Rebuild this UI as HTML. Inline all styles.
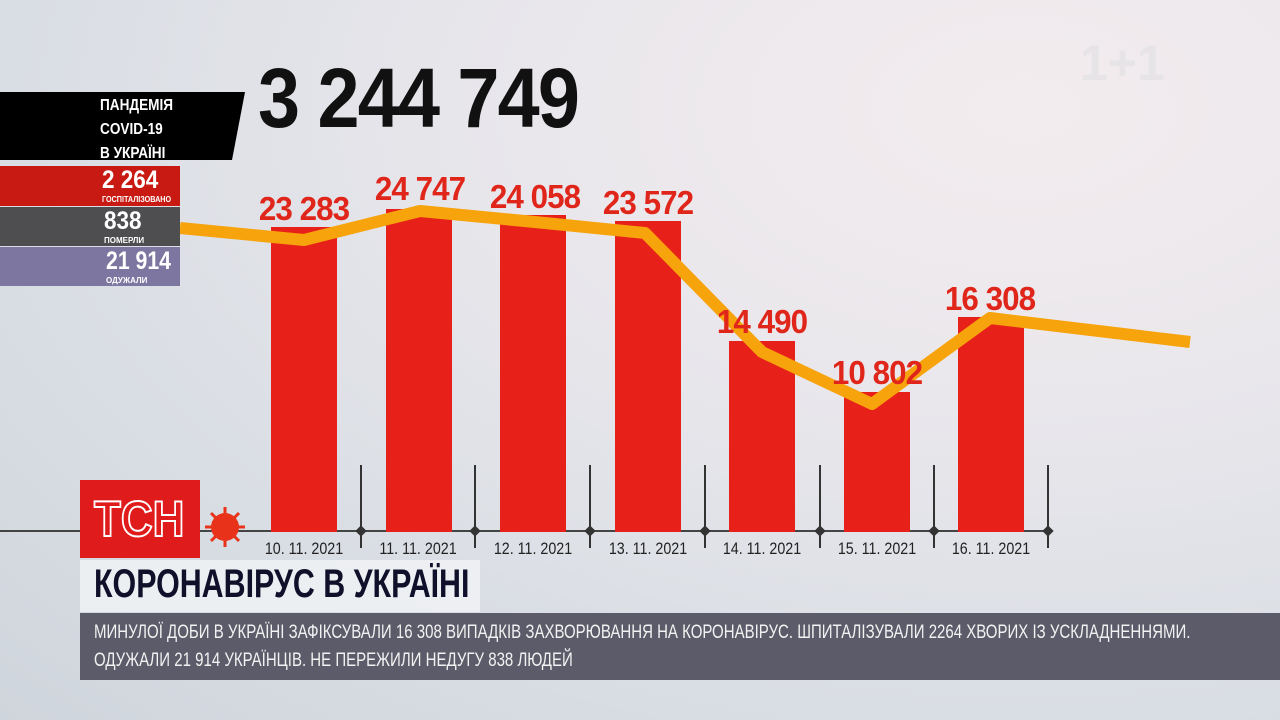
<!DOCTYPE html>
<html><head><meta charset="utf-8"><style>
body{margin:0;width:1280px;height:720px;overflow:hidden;position:relative;font-family:"Liberation Sans","DejaVu Sans",sans-serif;
background:radial-gradient(ellipse at 80% 15%,#f3ecee 0%,#e9e7ec 35%,#d9dee4 70%,#cfd5dc 100%);}
.abs{position:absolute}
.val{position:absolute;color:#e0261a;font-size:33px;font-weight:bold;transform:translateX(-50%) scaleX(0.95);white-space:nowrap;letter-spacing:-1px}
.bar{position:absolute;background:#e8201a;width:66px;bottom:188px}
.dt{position:absolute;top:539px;font-size:17px;color:#222;transform:translateX(-50%) scaleX(0.84);white-space:nowrap}
.c{transform-origin:0 0;white-space:nowrap}
</style></head><body>
<svg class="abs" style="left:0;top:0" width="1280" height="720">
<line x1="0" y1="531" x2="1050" y2="531" stroke="#444" stroke-width="2"/>
<g stroke="#333" stroke-width="2">
<line x1="361" y1="465" x2="361" y2="548"/><line x1="475" y1="465" x2="475" y2="548"/><line x1="590" y1="465" x2="590" y2="548"/><line x1="705" y1="465" x2="705" y2="548"/><line x1="820" y1="465" x2="820" y2="548"/><line x1="934" y1="465" x2="934" y2="548"/><line x1="1048" y1="465" x2="1048" y2="548"/>
</g>
</svg>
<div class="bar" style="left:271px;top:227px"></div>
<div class="bar" style="left:386px;top:209px"></div>
<div class="bar" style="left:500px;top:215px"></div>
<div class="bar" style="left:615px;top:221px"></div>
<div class="bar" style="left:729px;top:341px"></div>
<div class="bar" style="left:844px;top:392px"></div>
<div class="bar" style="left:958px;top:317px"></div>
<svg class="abs" style="left:0;top:0" width="1280" height="720">
<polyline points="180,228 304,240 420,211 535,222 645,233 762,352 872,404 990,318 1190,342" fill="none" stroke="#f7a30c" stroke-width="12" stroke-linejoin="round"/>
<g fill="#333">
<rect x="357" y="527" width="8" height="8" transform="rotate(45 361 531)"/><rect x="471" y="527" width="8" height="8" transform="rotate(45 475 531)"/><rect x="586" y="527" width="8" height="8" transform="rotate(45 590 531)"/><rect x="701" y="527" width="8" height="8" transform="rotate(45 705 531)"/><rect x="816" y="527" width="8" height="8" transform="rotate(45 820 531)"/><rect x="930" y="527" width="8" height="8" transform="rotate(45 934 531)"/><rect x="1044" y="527" width="8" height="8" transform="rotate(45 1048 531)"/>
</g>
<polygon points="0,92 245,92 232,160 0,160" fill="#000"/>
<g transform="translate(225,527)" fill="#e8331a">
<circle r="14"/>
<g stroke="#e8331a" stroke-width="3"><line x1="-20" y1="0" x2="20" y2="0"/><line x1="0" y1="-20" x2="0" y2="20"/><line x1="-14" y1="-14" x2="14" y2="14"/><line x1="-14" y1="14" x2="14" y2="-14"/></g>
</g>
</svg>
<div class="val" style="left:304px;top:190px">23 283</div>
<div class="val" style="left:420px;top:170px">24 747</div>
<div class="val" style="left:535px;top:178px">24 058</div>
<div class="val" style="left:648px;top:184px">23 572</div>
<div class="val" style="left:762px;top:303px">14 490</div>
<div class="val" style="left:877px;top:354px">10 802</div>
<div class="val" style="left:990px;top:280px">16 308</div>
<div class="dt" style="left:304px">10. 11. 2021</div>
<div class="dt" style="left:418px">11. 11. 2021</div>
<div class="dt" style="left:533px">12. 11. 2021</div>
<div class="dt" style="left:648px">13. 11. 2021</div>
<div class="dt" style="left:762px">14. 11. 2021</div>
<div class="dt" style="left:877px">15. 11. 2021</div>
<div class="dt" style="left:991px">16. 11. 2021</div>
<div class="abs c" style="left:258px;top:50px;font-size:84px;font-weight:bold;color:#111;letter-spacing:-2px;transform:scaleX(0.9)">3 244 749</div>
<div class="abs c" style="left:1080px;top:34px;font-size:50px;font-weight:bold;color:#e6e4e7">1+1</div>
<div class="abs c" style="left:100px;top:94px;color:#fff;font-weight:bold;font-size:16px;line-height:24px;transform:scaleX(0.85)">ПАНДЕМІЯ<br>COVID-19<br>В УКРАЇНІ</div>
<div class="abs" style="left:0;top:166px;width:180px;height:40px;background:#c81a12"></div>
<div class="abs c" style="left:102px;top:166px;color:#fff;font-weight:bold;font-size:25px;transform:scaleX(0.9)">2 264</div>
<div class="abs c" style="left:102px;top:195px;color:#fff;font-weight:bold;font-size:8px;transform:scaleX(0.9)">ГОСПІТАЛІЗОВАНО</div>
<div class="abs" style="left:0;top:207px;width:180px;height:39px;background:#4e4e50"></div>
<div class="abs c" style="left:104px;top:207px;color:#fff;font-weight:bold;font-size:25px;transform:scaleX(0.9)">838</div>
<div class="abs c" style="left:104px;top:236px;color:#fff;font-weight:bold;font-size:8px">ПОМЕРЛИ</div>
<div class="abs" style="left:0;top:247px;width:180px;height:39px;background:#7d76a0"></div>
<div class="abs c" style="left:106px;top:247px;color:#fff;font-weight:bold;font-size:25px;transform:scaleX(0.85)">21 914</div>
<div class="abs c" style="left:106px;top:276px;color:#fff;font-weight:bold;font-size:8px">ОДУЖАЛИ</div>
<div class="abs" style="left:80px;top:480px;width:120px;height:78px;background:#df1b1b"></div>
<div class="abs c" style="left:94px;top:490px;color:#df1b1b;font-weight:bold;font-size:50px;-webkit-text-stroke:2px #fff;transform:scaleX(0.88)">ТСН</div>
<div class="abs" style="left:80px;top:560px;width:400px;height:52px;background:rgba(240,242,244,.85)"></div>
<div class="abs c" style="left:94px;top:562px;color:#10102a;font-weight:bold;font-size:40px;transform:scaleX(0.76)">КОРОНАВІРУС В УКРАЇНІ</div>
<div class="abs" style="left:80px;top:613px;width:1200px;height:67px;background:#5c5b69"></div>
<div class="abs c" style="left:94px;top:618px;color:#f2f2f2;font-size:19.5px;line-height:28px;transform:scaleX(0.77)">МИНУЛОЇ ДОБИ В УКРАЇНІ ЗАФІКСУВАЛИ 16 308 ВИПАДКІВ ЗАХВОРЮВАННЯ НА КОРОНАВІРУС. ШПИТАЛІЗУВАЛИ 2264 ХВОРИХ ІЗ УСКЛАДНЕННЯМИ.<br>ОДУЖАЛИ 21 914 УКРАЇНЦІВ. НЕ ПЕРЕЖИЛИ НЕДУГУ 838 ЛЮДЕЙ</div>
</body></html>
